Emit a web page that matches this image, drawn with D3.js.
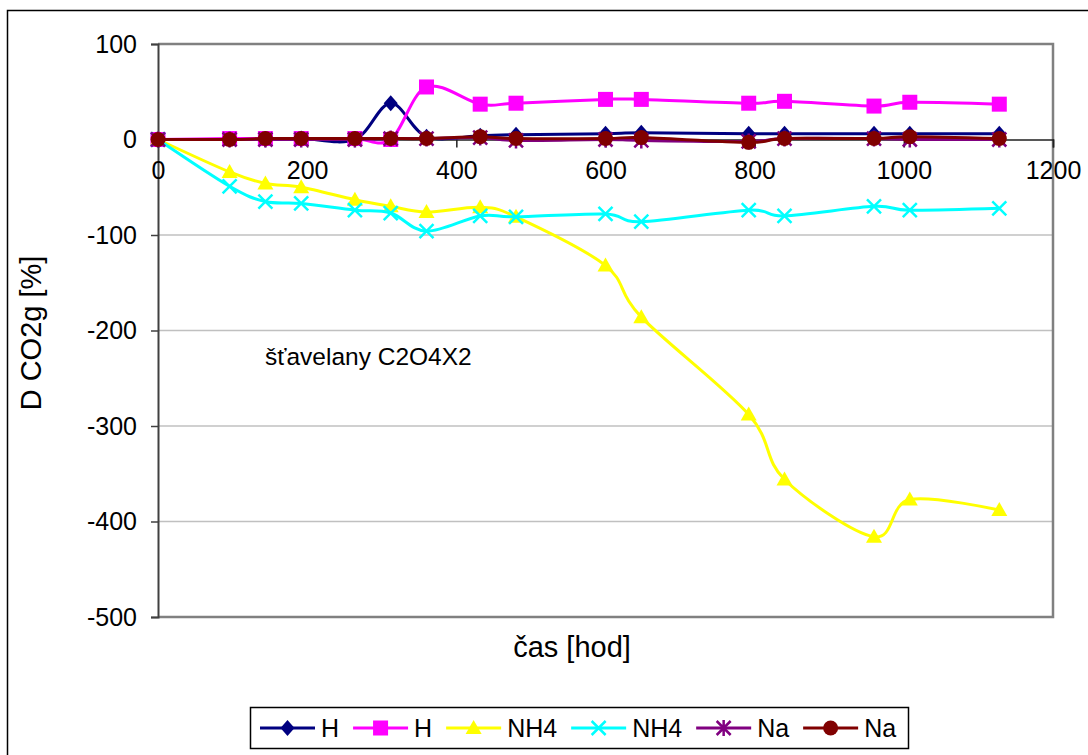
<!DOCTYPE html>
<html>
<head>
<meta charset="utf-8">
<script src="https://cdn.jsdelivr.net/npm/d3@7"></script>
<style>
  body { margin: 0; background: #fff; }
  text { font-family: "Liberation Sans", Arial, sans-serif; fill: #000; }
</style>
</head>
<body>
<svg id="chart" width="1088" height="755"></svg>
<script>
// hours of exposure
const hours = [0, 96, 144, 192, 264, 312, 360, 432, 480, 600, 648, 792, 840, 960, 1008, 1128];

// D CO2g [%] per series
const hDiamond = [0, 0, 0, 1, 0, 38, 3, 4, 5, 6, 7, 6, 6, 6, 6, 6];
const hSquare = [0, 1, 1, 1, 1, 0, 55, 37, 38, 42, 42, 38, 40, 35, 39, 37];
const nh4Triangle = [0, -34, -46, -50, -63, -70, -76, -71, -81, -132, -186, -288, -356, -416, -377, -388];
const nh4Cross = [0, -49, -65, -67, -74, -77, -96, -80, -81, -78, -86, -74, -80, -70, -74, -72];
const naStar = [0, 0, 0, 0, 0, 1, 1, 2, -1, 0, -1, -2, 1, 1, 0, 0];
const naCircle = [0, 0, 1, 1, 1, 1, 1, 3, 1, 1, 2, -3, 1, 1, 3, 1];

const xTicks = [0, 200, 400, 600, 800, 1000, 1200];
const yTicks = [100, 0, -100, -200, -300, -400, -500];

const series = [
  { name: "H", values: hDiamond, color: "#000080", marker: "diamond" },
  { name: "H", values: hSquare, color: "#ff00ff", marker: "square" },
  { name: "NH4", values: nh4Triangle, color: "#ffff00", marker: "triangle" },
  { name: "NH4", values: nh4Cross, color: "#00ffff", marker: "cross" },
  { name: "Na", values: naStar, color: "#800080", marker: "star" },
  { name: "Na", values: naCircle, color: "#800000", marker: "circle" }
];

const svg = d3.select("#chart");

// outer chart frame
svg.append("rect")
  .attr("x", 7.5).attr("y", 10.5)
  .attr("width", 1200).attr("height", 900)
  .attr("fill", "#fff").attr("stroke", "#000").attr("stroke-width", 1.5);

const plotL = 158, plotR = 1053, plotT = 44, plotB = 617;

const x = d3.scaleLinear().domain([0, 1200]).range([plotL, plotR]);
const y = d3.scaleLinear().domain([-500, 100]).range([plotB, plotT]);

// gridlines
svg.append("g")
  .selectAll("line")
  .data(yTicks.filter((d) => d < 0 && d > -500))
  .join("line")
  .attr("x1", plotL).attr("x2", plotR)
  .attr("y1", (d) => y(d)).attr("y2", (d) => y(d))
  .attr("stroke", "#c0c0c0").attr("stroke-width", 1.5);

// plot area border (top, right, bottom)
svg.append("path")
  .attr("d", `M${plotL},${plotT}H${plotR}V${plotB}H${plotL}`)
  .attr("fill", "none").attr("stroke", "#808080").attr("stroke-width", 2.5);

// plain hyphen minus like the original
const fmt = (d) => String(d);

// y axis
const yAxis = svg.append("g")
  .attr("transform", `translate(${plotL},0)`)
  .call(d3.axisLeft(y).tickValues(yTicks).tickSize(7).tickPadding(14).tickFormat(fmt));
yAxis.select(".domain").attr("stroke", "#404040").attr("stroke-width", 2);
yAxis.selectAll(".tick line").attr("stroke", "#404040").attr("stroke-width", 1.5);
yAxis.selectAll("text").attr("font-size", 25).attr("fill", "#000")
  .attr("font-family", "Liberation Sans, Arial, sans-serif");

// x axis crossing at 0
const xAxis = svg.append("g")
  .attr("transform", `translate(0,${y(0)})`)
  .call(d3.axisBottom(x).tickValues(xTicks).tickSize(8).tickPadding(14).tickFormat(fmt));
xAxis.select(".domain").attr("stroke", "#202020").attr("stroke-width", 1.5);
xAxis.selectAll(".tick line").attr("stroke", "#202020").attr("stroke-width", 1.5);
xAxis.selectAll("text").attr("font-size", 25).attr("fill", "#000")
  .attr("font-family", "Liberation Sans, Arial, sans-serif");

// markers
function drawMarker(g, type, color) {
  if (type === "diamond") {
    g.append("path").attr("d", "M0,-8L7,0L0,8L-7,0Z").attr("fill", color);
  } else if (type === "square") {
    g.append("rect").attr("x", -7.5).attr("y", -7.5).attr("width", 15).attr("height", 15).attr("fill", color);
  } else if (type === "triangle") {
    g.append("path").attr("d", "M0,-8L8,6L-8,6Z").attr("fill", color);
  } else if (type === "cross") {
    g.append("path").attr("d", "M-7,-7L7,7M-7,7L7,-7").attr("stroke", color).attr("stroke-width", 2.5);
  } else if (type === "star") {
    g.append("path").attr("d", "M-7,-7L7,7M-7,7L7,-7M0,-8V8")
      .attr("stroke", color).attr("stroke-width", 2.5);
  } else if (type === "circle") {
    g.append("circle").attr("r", 7.5).attr("fill", color);
  }
}

const line = d3.line()
  .x((d) => x(d[0]))
  .y((d) => y(d[1]))
  .curve(d3.curveCardinal.tension(0));

series.forEach((s) => {
  const pts = hours.map((h, i) => [h, s.values[i]]);
  svg.append("path")
    .datum(pts)
    .attr("d", line)
    .attr("fill", "none")
    .attr("stroke", s.color)
    .attr("stroke-width", 3);
  svg.append("g")
    .selectAll("g")
    .data(pts)
    .join("g")
    .attr("transform", (d) => `translate(${x(d[0])},${y(d[1])})`)
    .each(function () { drawMarker(d3.select(this), s.marker, s.color); });
});

// annotation
svg.append("text")
  .attr("x", 265).attr("y", 365)
  .attr("font-size", 24.5)
  .text("šťavelany C2O4X2");

// axis titles
svg.append("text")
  .attr("transform", "translate(41,333) rotate(-90)")
  .attr("text-anchor", "middle")
  .attr("font-size", 29)
  .text("D CO2g [%]");

svg.append("text")
  .attr("x", 572).attr("y", 657)
  .attr("text-anchor", "middle")
  .attr("font-size", 29)
  .text("čas [hod]");

// legend
const legend = svg.append("g");
legend.append("rect")
  .attr("x", 250.5).attr("y", 707.5)
  .attr("width", 658).attr("height", 41)
  .attr("fill", "#fff").attr("stroke", "#000").attr("stroke-width", 1.5);

let lx = 260;
series.forEach((s) => {
  const item = legend.append("g").attr("transform", `translate(${lx},728)`);
  item.append("line").attr("x1", 0).attr("x2", 55).attr("stroke", s.color).attr("stroke-width", 3);
  drawMarker(item.append("g").attr("transform", "translate(27.5,0)"), s.marker, s.color);
  const t = item.append("text")
    .attr("x", 61).attr("dy", "0.35em")
    .attr("font-size", 25)
    .text(s.name);
  lx += 61 + t.node().getComputedTextLength() + 14;
});
</script>
</body>
</html>
